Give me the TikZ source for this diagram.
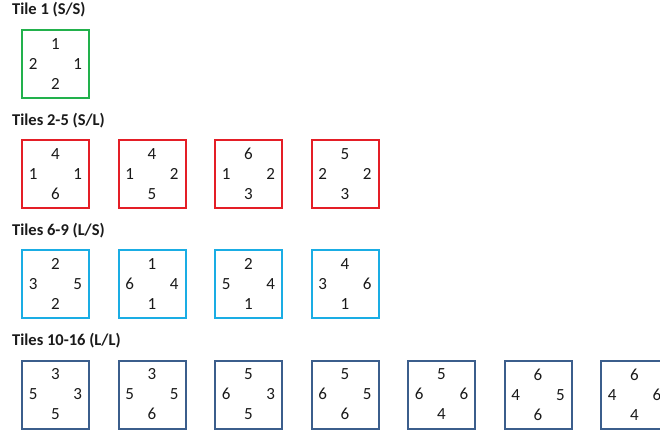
\documentclass[tikz,border=0pt]{standalone}
\usepackage{fontspec}
\setmainfont{Carlito}
\usetikzlibrary{positioning}
\definecolor{tileGreen}{HTML}{22B14C}
\definecolor{tileRed}{HTML}{E41E26}
\definecolor{tileCyan}{HTML}{1AADE4}
\definecolor{tileNavy}{HTML}{3B5E8C}
\definecolor{inkBlack}{HTML}{1A1A1A}
\tikzset{
    tilebox/.style={draw,line width=2pt,fill=white,minimum width=67pt,
        minimum height=68pt,inner sep=0pt,align=center,text=inkBlack,
        font=\fontsize{17}{20}\selectfont},
    tilegreen/.style={tilebox,draw=tileGreen},
    tilered/.style={tilebox,draw=tileRed},
    tilecyan/.style={tilebox,draw=tileCyan},
    tilenavy/.style={tilebox,draw=tileNavy},
    rowtitle/.style={anchor=base west,inner sep=0pt,text=inkBlack,
        font=\fontsize{16.5}{19}\selectfont\bfseries}
}

\begin{document}
\begin{tikzpicture}[x=1pt,y=-1pt]
        \useasboundingbox (0,0) rectangle (660,433);
        % row 1
        \node[rowtitle] (titleone) at (12,15) {Tile 1 (S/S)};
        \node[tilegreen] (tileone) at (55.5,64) {1\\2\hspace{36pt}1\\2};
        % row 2
        \node[rowtitle] (titletwo) at (12,125) {Tiles 2-5 (S/L)};
        \node[tilered] (tiletwo) at (55.5,174) {4\\1\hspace{36pt}1\\6};
        \node[tilered] (tilethree) at (152,174) {4\\1\hspace{36pt}2\\5};
        \node[tilered] (tilefour) at (248.5,174) {6\\1\hspace{36pt}2\\3};
        \node[tilered] (tilefive) at (345,174) {5\\2\hspace{36pt}2\\3};
        % row 3
        \node[rowtitle] (titlethree) at (12,235) {Tiles 6-9 (L/S)};
        \node[tilecyan] (tilesix) at (55.5,284) {2\\3\hspace{36pt}5\\2};
        \node[tilecyan] (tileseven) at (152,284) {1\\6\hspace{36pt}4\\1};
        \node[tilecyan] (tileeight) at (248.5,284) {2\\5\hspace{36pt}4\\1};
        \node[tilecyan] (tilenine) at (345,284) {4\\3\hspace{36pt}6\\1};
        % row 4
        \node[rowtitle] (titlefour) at (12,345) {Tiles 10-16 (L/L)};
        \node[tilenavy] (tileten) at (55.5,394.5) {3\\5\hspace{36pt}3\\5};
        \node[tilenavy] (tileeleven) at (152,394.5) {3\\5\hspace{36pt}5\\6};
        \node[tilenavy] (tiletwelve) at (248.5,394.5) {5\\6\hspace{36pt}3\\5};
        \node[tilenavy] (tilethirteen) at (345,394.5) {5\\6\hspace{36pt}5\\6};
        \node[tilenavy] (tilefourteen) at (441.5,394.5) {5\\6\hspace{36pt}6\\4};
        \node[tilenavy] (tilefifteen) at (538,394.5) {6\\4\hspace{36pt}5\\6};
        \node[tilenavy] (tilesixteen) at (634.5,394.5) {6\\4\hspace{36pt}6\\4};
    \end{tikzpicture}
\end{document}
